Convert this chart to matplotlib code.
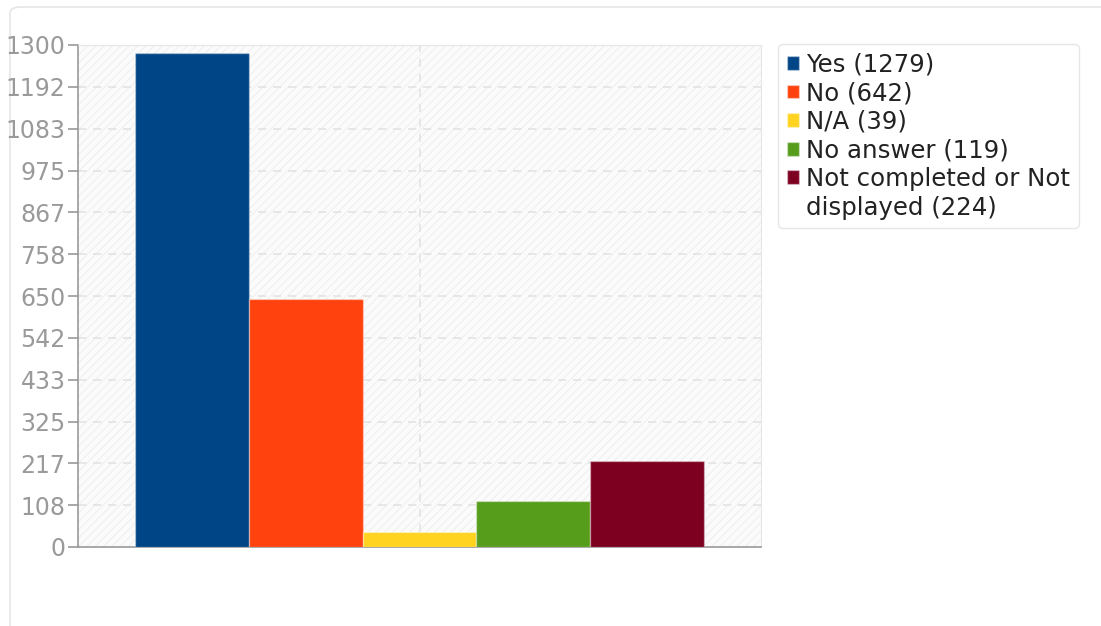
import numpy as np
import matplotlib.pyplot as plt
from matplotlib.patches import Rectangle, FancyBboxPatch

categories = ["Yes", "No", "N/A", "No answer", "Not completed or Not displayed"]
counts = [1279, 642, 39, 119, 224]
colors = ["#004586", "#ff420e", "#ffd320", "#579d1c", "#7e0021"]
y_ticks = [0, 108, 217, 325, 433, 542, 650, 758, 867, 975, 1083, 1192, 1300]

W, H = 1101, 626
plt.rcParams['hatch.linewidth'] = 0.6
fig = plt.figure(figsize=(W / 100, H / 100), dpi=100)

# outer rounded panel
panel = FancyBboxPatch((10 / W, -0.3), 1.2, 1.3 - 7 / H,
                       boxstyle="round,pad=0,rounding_size=0.01",
                       transform=fig.transFigure, facecolor="white", edgecolor="#e6e6e6",
                       lw=1.2, zorder=-5)
fig.patches.append(panel)

ax = fig.add_axes([78 / W, (H - 547) / H, 683 / W, 502 / H])
ax.set_zorder(2)
ax.set_facecolor("#fbfbfb")
ax.add_patch(Rectangle((0, 0), 1, 1, transform=ax.transAxes, facecolor="none",
                       edgecolor="#ececec", hatch="////", lw=0, zorder=0))

x = np.arange(len(counts))
bars = ax.bar(x, counts, width=1.0, color=colors, edgecolor=(1, 1, 1, 0.35),
              linewidth=1, zorder=3)

ax.set_xlim(-1.0, 5.0)
ax.set_ylim(0, 1300)
ax.set_yticks(y_ticks)
ax.set_yticklabels([str(v) for v in y_ticks])
ax.set_xticks([])

for v in y_ticks[1:-1]:
    ax.axhline(v, color="#e3e3e3", lw=1.2, ls=(0, (5, 4)), zorder=1)
ax.axvline(2.0, color="#e3e3e3", lw=1.2, ls=(0, (5, 4)), zorder=1)

ax.tick_params(axis="y", colors="#999999", labelcolor="#9a9a9a", labelsize=17,
               length=7, width=1.2, pad=2)
ax.spines["left"].set_color("#999999")
ax.spines["bottom"].set_color("#999999")
ax.spines["left"].set_linewidth(1.2)
ax.spines["bottom"].set_linewidth(1.2)
ax.spines["top"].set_color("#e6e6e6")
ax.spines["right"].set_color("#e6e6e6")

# legend: the long label wraps onto a second row with no marker
labels = [f"{c} ({n})" for c, n in zip(categories, counts)]
first, rest = labels[-1].split(" displayed")
handles = list(bars) + [Rectangle((0, 0), 1, 1, facecolor="none", edgecolor="none")]
leg_labels = labels[:-1] + [first, "displayed" + rest]
leg = fig.legend(handles, leg_labels, loc="upper left", bbox_to_anchor=(778 / W, 1 - 44 / H),
                 borderaxespad=0, fontsize=17.6, handlelength=0.5, handleheight=0.5,
                 handletextpad=0.3, labelspacing=0.19, borderpad=0.35, frameon=True,
                 fancybox=True, edgecolor="#e6e6e6", framealpha=1)
leg.get_frame().set_linewidth(1.0)
for t in leg.get_texts():
    t.set_color("#222222")

fig.savefig("out.png", dpi=100)
